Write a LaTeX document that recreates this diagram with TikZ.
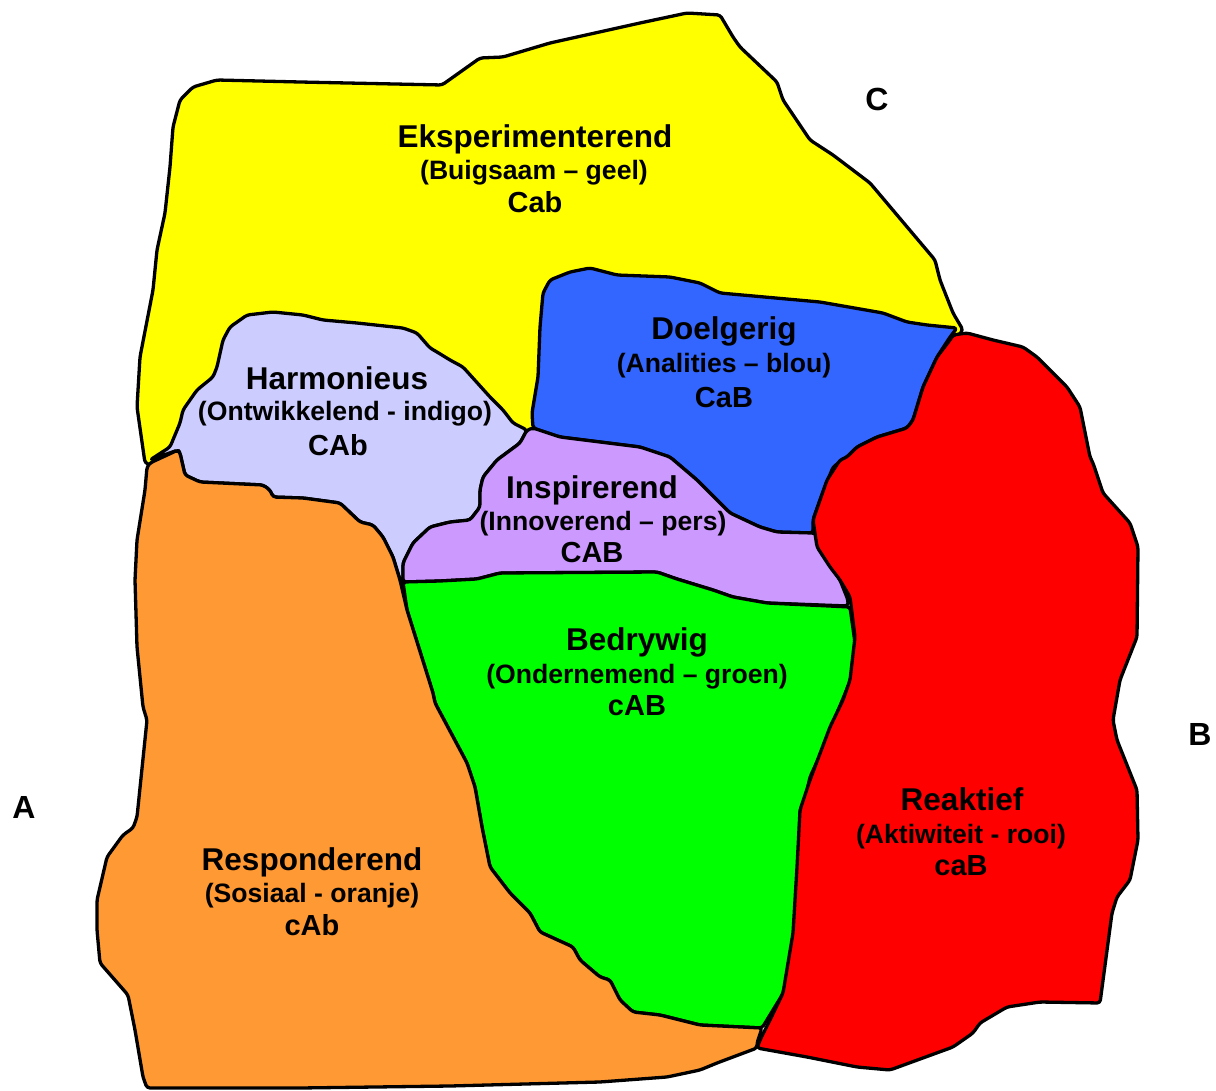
\documentclass[tikz,border=0pt]{standalone}
\usepackage{fontspec}
\setmainfont{Liberation Sans}
\usepackage{tikz}
\usetikzlibrary{positioning}
\definecolor{geel}{HTML}{FFFF00}
\definecolor{blou}{HTML}{3366FF}
\definecolor{indigo}{HTML}{CCCCFF}
\definecolor{pers}{HTML}{CC99FF}
\definecolor{groen}{HTML}{00FF00}
\definecolor{oranje}{HTML}{FF9933}
\definecolor{rooi}{HTML}{FF0000}
\tikzset{
  region/.style={draw=black,line width=3.3pt,line join=round,rounded corners=3pt},
  lbltitle/.style={anchor=base,font=\fontsize{31.5}{34}\selectfont\bfseries},
  lblsub/.style={anchor=base,font=\fontsize{26.6}{30}\selectfont\bfseries},
  lblcode/.style={anchor=base,font=\fontsize{29}{32}\selectfont\bfseries},
  cornerlbl/.style={anchor=base,font=\fontsize{32}{34}\selectfont\bfseries},
}
\begin{document}
\begin{tikzpicture}[x=1pt,y=-1pt]
  \useasboundingbox (0,0) rectangle (1216,1091);
  % yellow goes underneath, the rest is painted over it
  \path[region,fill=geel] (145,463) -- (137,407) -- (140,357) -- (153,290) -- (157,250)
    -- (165,213) -- (170,167) -- (173,127) -- (180,100) -- (193,87) -- (217,80) -- (300,82)
    -- (442,85) -- (480,58) -- (503,57) -- (550,43) -- (640,23) -- (687,13) -- (720,15)
    -- (733,37) -- (740,47) -- (777,82) -- (783,100) -- (810,140) -- (833,155) -- (870,183)
    -- (935,260) -- (940,280) -- (953,313) -- (963,330) -- (950,345) -- (850,460)
    -- (600,460) -- (400,480) -- (160,468) -- cycle;
  \path[region,fill=blou] (550,280) -- (570,272) -- (590,268) -- (617,275) -- (670,277)
    -- (700,283) -- (720,293) -- (820,302) -- (883,313) -- (907,322) -- (927,325) -- (957,328)
    -- (950,337) -- (937,357) -- (923,387) -- (913,420) -- (907,428) -- (877,437) -- (857,447)
    -- (847,457) -- (833,467) -- (820,500) -- (813,520) -- (813,533) -- (777,532) -- (760,527)
    -- (730,513) -- (717,500) -- (697,480) -- (670,457) -- (640,447) -- (600,442) -- (560,437)
    -- (533,428) -- (532,413) -- (538,377) -- (540,327) -- (543,293) -- cycle;
  \path[region,fill=indigo] (150,460) -- (170,447) -- (180,423) -- (183,410) -- (197,390)
    -- (213,377) -- (217,367) -- (223,340) -- (230,327) -- (240,320) -- (247,315) -- (273,312)
    -- (303,315) -- (323,320) -- (357,323) -- (403,328) -- (417,333) -- (430,348) -- (437,352)
    -- (450,360) -- (463,367) -- (490,397) -- (503,410) -- (513,423) -- (527,430) -- (520,443)
    -- (497,460) -- (483,477) -- (480,490) -- (480,507) -- (470,520) -- (450,522) -- (430,527)
    -- (413,543) -- (403,563) -- (403,582) -- (400,580) -- (393,557) -- (383,537) -- (373,525)
    -- (360,522) -- (340,503) -- (303,498) -- (273,497) -- (270,490) -- (263,485) -- (200,482)
    -- (185,475) -- (180,453) -- (178,450) -- cycle;
  \path[region,fill=pers] (527,430) -- (533,428) -- (560,437) -- (600,442) -- (640,447)
    -- (670,457) -- (697,480) -- (717,500) -- (730,513) -- (760,527) -- (777,532) -- (813,533)
    -- (815,533) -- (820,540) -- (830,563) -- (840,580) -- (848,600) -- (848,606) -- (767,603)
    -- (733,597) -- (713,590) -- (677,579) -- (657,572) -- (500,573) -- (477,579) -- (440,581)
    -- (403,582) -- (403,563) -- (413,543) -- (430,527) -- (450,522) -- (470,520) -- (480,507)
    -- (480,490) -- (483,477) -- (497,460) -- (520,443) -- cycle;
  \path[region,fill=groen] (403,582) -- (440,581) -- (477,579) -- (500,573) -- (657,572)
    -- (677,579) -- (713,590) -- (733,597) -- (767,603) -- (850,607) -- (855,643) -- (852,677)
    -- (837,713) -- (827,740) -- (810,777) -- (805,800) -- (800,810) -- (797,927) -- (787,987)
    -- (762,1028) -- (700,1025) -- (660,1015) -- (633,1012) -- (620,1000) -- (610,980)
    -- (600,977) -- (580,960) -- (573,947) -- (540,932) -- (530,913) -- (510,893) -- (490,867)
    -- (482,827) -- (475,787) -- (467,763) -- (435,703) -- (433,693) -- (407,610) -- cycle;
  \path[region,fill=oranje] (147,467) -- (150,463) -- (178,450) -- (180,453) -- (185,475)
    -- (200,482) -- (263,485) -- (270,490) -- (273,497) -- (303,498) -- (340,503) -- (360,522)
    -- (373,525) -- (383,537) -- (393,557) -- (400,580) -- (407,610) -- (433,693) -- (435,703)
    -- (467,763) -- (475,787) -- (482,827) -- (490,867) -- (510,893) -- (530,913) -- (540,932)
    -- (573,947) -- (580,960) -- (600,977) -- (610,980) -- (620,1000) -- (633,1012) -- (660,1015)
    -- (700,1025) -- (762,1028) -- (757,1043) -- (757,1048) -- (717,1063) -- (700,1070)
    -- (667,1077) -- (600,1082) -- (450,1086) -- (300,1088) -- (147,1088) -- (143,1077)
    -- (135,1030) -- (128,995) -- (100,963) -- (97,930) -- (97,900) -- (107,857) -- (123,835)
    -- (133,828) -- (137,817) -- (147,720) -- (143,707) -- (137,647) -- (135,580) -- (137,540)
    -- (145,490) -- cycle;
  \path[region,fill=rooi] (953,335) -- (967,333) -- (993,340) -- (1023,347) -- (1037,357)
    -- (1067,387) -- (1080,407) -- (1090,457) -- (1093,463) -- (1103,493) -- (1130,523)
    -- (1138,547) -- (1137,637) -- (1120,680) -- (1113,720) -- (1117,740) -- (1137,790)
    -- (1138,840) -- (1130,880) -- (1117,897) -- (1112,913) -- (1100,1003) -- (1040,1002)
    -- (1007,1007) -- (980,1023) -- (973,1033) -- (953,1047) -- (890,1070) -- (857,1067)
    -- (807,1057) -- (757,1048) -- (760,1040) -- (770,1020) -- (783,993) -- (793,933)
    -- (797,867) -- (800,810) -- (810,780) -- (830,727) -- (843,700) -- (850,680) -- (855,637)
    -- (850,597) -- (840,580) -- (830,567) -- (817,547) -- (813,520) -- (820,500) -- (827,480)
    -- (840,460) -- (847,457) -- (857,447) -- (877,437) -- (907,428) -- (913,420) -- (923,387)
    -- (937,357) -- (950,340) -- cycle;
  % labels
  \node[lbltitle] (eks) at (535,148) {Eksperimenterend};
  \node[lblsub] (eks-sub) at (534,180) {(Buigsaam – geel)};
  \node[lblcode] (eks-code) at (535,213) {Cab};
  \node[lbltitle] (har) at (337,389) {Harmonieus};
  \node[lblsub] (har-sub) at (345,420) {(Ontwikkelend - indigo)};
  \node[lblcode] (har-code) at (338,455) {CAb};
  \node[lbltitle] (doel) at (724,340) {Doelgerig};
  \node[lblsub] (doel-sub) at (724,373) {(Analities – blou)};
  \node[lblcode] (doel-code) at (724,407) {CaB};
  \node[lbltitle] (insp) at (592,498) {Inspirerend};
  \node[lblsub] (insp-sub) at (603,530) {(Innoverend – pers)};
  \node[lblcode] (insp-code) at (592,562) {CAB};
  \node[lbltitle] (bed) at (637,650) {Bedrywig};
  \node[lblsub] (bed-sub) at (637,683) {(Ondernemend – groen)};
  \node[lblcode] (bed-code) at (637,715) {cAB};
  \node[lbltitle] (reak) at (962,810) {Reaktief};
  \node[lblsub] (reak-sub) at (961,843) {(Aktiwiteit - rooi)};
  \node[lblcode] (reak-code) at (961,875) {caB};
  \node[lbltitle] (resp) at (312,870) {Responderend};
  \node[lblsub] (resp-sub) at (312,902) {(Sosiaal - oranje)};
  \node[lblcode] (resp-code) at (312,935) {cAb};
  % axis letters
  \node[cornerlbl] (ca) at (24,818) {A};
  \node[cornerlbl] (cb) at (1200,745) {B};
  \node[cornerlbl] (cc) at (877,111) {C};
\end{tikzpicture}
\end{document}
